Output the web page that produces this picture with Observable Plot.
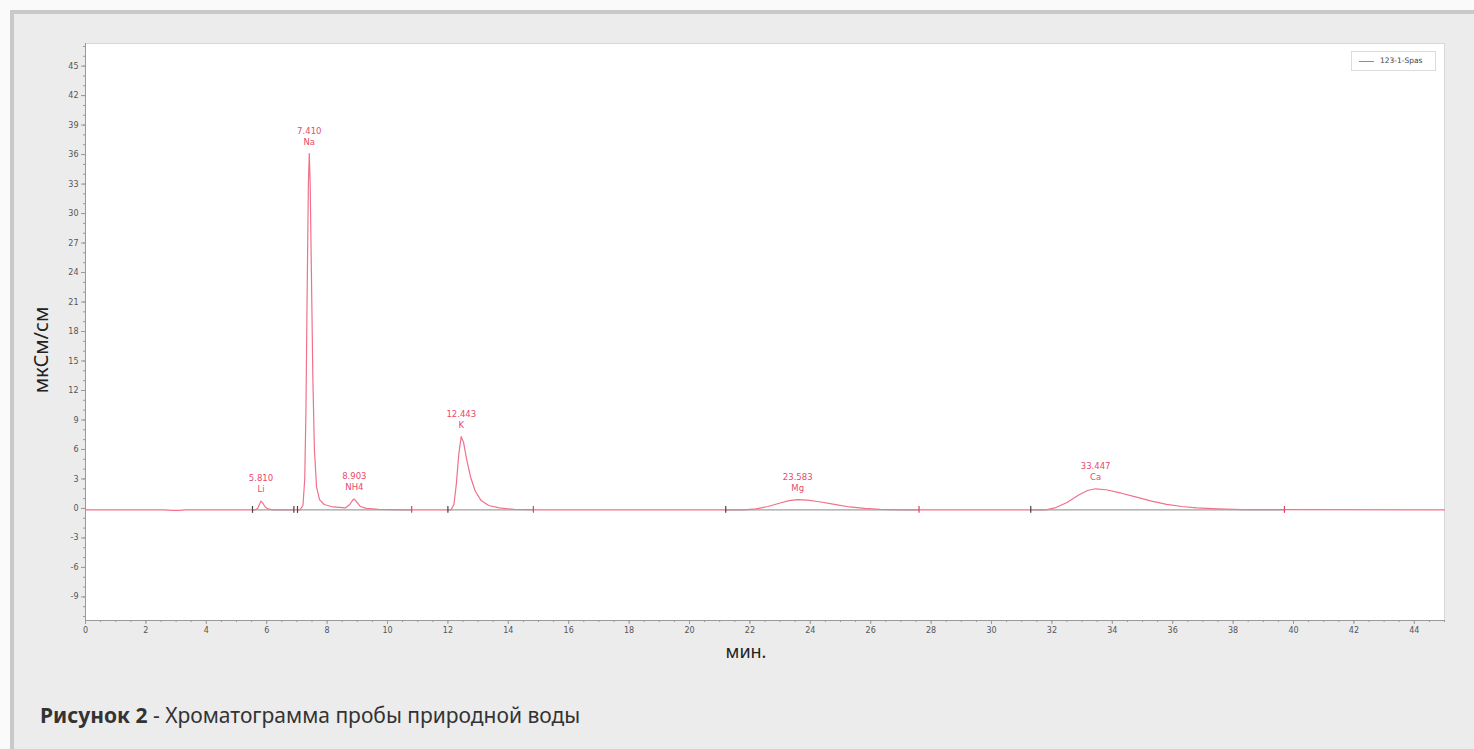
<!DOCTYPE html>
<html><head><meta charset="utf-8">
<script src="https://cdn.jsdelivr.net/npm/d3@7"></script>
<script src="https://cdn.jsdelivr.net/npm/@observablehq/plot@0.6"></script>
<style>
body{margin:0;background:#fafafa;width:1474px;height:749px;overflow:hidden;position:relative;font-family:"Noto Sans",sans-serif;}
#panel{position:absolute;left:10px;top:10px;right:0;bottom:0;background:#ececec;border-top:4px solid #c9c9c9;border-left:4px solid #c9c9c9;}
#chart{position:absolute;left:0;top:0;}
#legend{position:absolute;left:1351px;top:51px;width:85px;height:20px;background:#fff;border:1px solid #dcdcdc;box-sizing:border-box;font-family:"DejaVu Sans",sans-serif;font-size:7.5px;color:#444;}
#legend .ln{position:absolute;left:7px;top:9px;width:15px;height:1px;background:#ee5f7e;}
#legend .tx{position:absolute;left:28px;top:4px;}
#caption{position:absolute;left:40px;top:701px;font-size:21px;color:#333;font-family:"Noto Sans",sans-serif;}
#caption b{font-weight:700;}
</style></head>
<body>
<div id="panel"></div>
<div id="chart"></div>
<div id="legend"><div class="ln"></div><div class="tx">123-1-Spas</div></div>
<div id="caption"><b>Рисунок 2</b> - Хроматограмма пробы природной воды</div>
<script>
// Chromatogram trace (min, мкСм/см)
const time = [0, 2.6, 2.9, 3.1, 3.3, 5.6, 5.7, 5.76, 5.81, 5.87, 5.95, 6.05, 6.2,
  7.1, 7.2, 7.26, 7.3, 7.34, 7.38, 7.41, 7.44, 7.48, 7.53, 7.58, 7.65, 7.75, 7.9, 8.2,
  8.6, 8.75, 8.85, 8.9, 8.97, 9.1, 9.3, 9.7, 10.5,
  12.1, 12.2, 12.28, 12.36, 12.44, 12.52, 12.62, 12.75, 12.9, 13.1, 13.35, 13.7, 14.2, 15,
  21.8, 22.2, 22.6, 23.0, 23.3, 23.58, 23.9, 24.3, 24.8, 25.3, 25.8, 26.3, 27,
  31.8, 32.1, 32.5, 32.9, 33.2, 33.45, 33.8, 34.3, 34.8, 35.3, 35.8, 36.3, 36.8, 37.5, 38.3, 45];
const signal = [-0.15, -0.15, -0.2, -0.2, -0.15, -0.15, 0.0, 0.4, 0.75, 0.55, 0.15, -0.05, -0.15,
  -0.15, 0.3, 3, 10, 22, 33, 36.1, 33, 24, 13, 6, 2.2, 0.9, 0.4, 0.15,
  0.05, 0.4, 0.85, 0.95, 0.7, 0.2, 0.0, -0.1, -0.15,
  -0.15, 0.4, 2.5, 5.5, 7.3, 6.7, 5.0, 3.2, 1.8, 0.8, 0.3, 0.05, -0.1, -0.15,
  -0.15, -0.05, 0.2, 0.55, 0.8, 0.9, 0.85, 0.68, 0.42, 0.15, 0.0, -0.1, -0.15,
  -0.15, 0.05, 0.6, 1.4, 1.85, 2.0, 1.9, 1.55, 1.15, 0.75, 0.42, 0.2, 0.05, -0.05, -0.12, -0.15];

// Peak annotations
const peakTime = [5.810, 7.410, 8.903, 12.443, 23.583, 33.447];
const peakLabel = ["5.810", "7.410", "8.903", "12.443", "23.583", "33.447"];
const peakName = ["Li", "Na", "NH4", "K", "Mg", "Ca"];
const peakHeight = [0.75, 36.1, 0.95, 7.3, 0.9, 2.0];

// Integration baselines and markers
const baseStart = [5.53, 7.02, 12.0, 21.2, 31.3];
const baseEnd = [6.9, 10.8, 14.83, 27.6, 39.7];
const baseLevel = -0.15;
const markerTime = [5.53, 6.9, 7.02, 10.8, 12.0, 14.83, 21.2, 27.6, 31.3, 39.7];
const markerKind = ["start", "start", "start", "end", "start", "end", "start", "end", "start", "end"];

// Axes
const yTicks = [-9, -6, -3, 0, 3, 6, 9, 12, 15, 18, 21, 24, 27, 30, 33, 36, 39, 42, 45];
const yMinor = d3.range(-11, 48, 1);
const xTicks = [0, 2, 4, 6, 8, 10, 12, 14, 16, 18, 20, 22, 24, 26, 28, 30, 32, 34, 36, 38, 40, 42, 44];
const xMinor = d3.range(0, 45.01, 0.5);

const trace = time.map((t, i) => ({t, v: signal[i]}));
const peaks = peakTime.map((t, i) => ({t, v: peakHeight[i], label: peakLabel[i] + "\n" + peakName[i]}));
const bases = baseStart.map((s, i) => ({x1: s, x2: baseEnd[i], y: baseLevel}));
const markers = markerTime.map((t, i) => ({t, kind: markerKind[i]}));

const lineColor = "#f0718b";
const labelColor = "#e94a6a";
const axisColor = "#9a9a9a";
const tickFont = "DejaVu Sans, sans-serif";

const chart = Plot.plot({
  width: 1474,
  height: 680,
  marginLeft: 85,
  marginRight: 30,
  marginTop: 43,
  marginBottom: 60,
  style: {background: "transparent", fontFamily: tickFont},
  x: {domain: [0, 45], axis: null},
  y: {domain: [-11.4, 47.3], axis: null},
  marks: [
    Plot.frame({fill: "white", stroke: "#d8d8d8"}),
    Plot.axisY(yMinor, {tickSize: 2, text: null, stroke: axisColor, label: null}),
    Plot.axisY(yTicks, {tickSize: 4, tickPadding: 3, fontSize: 8, color: "#555", stroke: axisColor, label: null, tickFormat: d => String(d)}),
    Plot.axisX(xMinor, {tickSize: 2, text: null, stroke: axisColor, label: null}),
    Plot.axisX(xTicks, {tickSize: 4, tickPadding: 3, fontSize: 8, color: "#555", stroke: axisColor, label: null, tickFormat: d => String(d)}),
    Plot.frame({anchor: "left", stroke: axisColor}),
    Plot.frame({anchor: "bottom", stroke: axisColor}),
    Plot.line(trace, {x: "t", y: "v", stroke: lineColor, strokeWidth: 1.2}),
    Plot.ruleY(bases, {x1: "x1", x2: "x2", y: "y", stroke: "#a0a0a0", strokeWidth: 1.2}),
    Plot.ruleX(markers, {x: "t", y1: -0.5, y2: 0.2, stroke: d => d.kind === "start" ? "#444" : "#e0406a", strokeWidth: 1.2}),
    Plot.text(peaks, {x: "t", y: "v", text: "label", lineAnchor: "bottom", dy: -9, fill: labelColor, fontSize: 8.5, lineHeight: 1.25}),
    Plot.text(["мин."], {frameAnchor: "bottom", dx: -19, dy: 37, fontSize: 18, fill: "#222", fontFamily: "Noto Sans, sans-serif"}),
    Plot.text(["мкСм/см"], {frameAnchor: "left", textAnchor: "middle", dx: -44, dy: 18, rotate: -90, fontSize: 20, fill: "#222", fontFamily: "Noto Sans, sans-serif"})
  ]
});
document.getElementById("chart").appendChild(chart);
</script>
</body></html>
